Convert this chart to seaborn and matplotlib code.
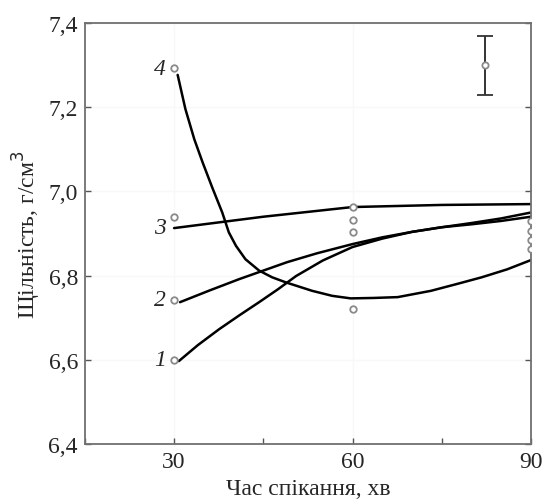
import numpy as np
import pandas as pd
import seaborn as sns
import matplotlib.pyplot as plt
from matplotlib.ticker import MultipleLocator

# fitted curves
c1_x = [30.8, 34, 37.6, 41, 44.3, 47.5, 50.5, 55, 60, 65, 70, 75, 80, 85, 90]
c1_y = [6.597, 6.635, 6.673, 6.706, 6.737, 6.768, 6.799, 6.836, 6.868, 6.888, 6.904, 6.915, 6.922, 6.930, 6.940]
c2_x = [31, 36, 41, 45, 49, 54, 60, 65, 70, 75, 80, 85, 90]
c2_y = [6.737, 6.765, 6.792, 6.812, 6.832, 6.853, 6.875, 6.891, 6.904, 6.915, 6.925, 6.936, 6.950]
c3_x = [30, 45, 60, 75, 90]
c3_y = [6.913, 6.940, 6.963, 6.968, 6.970]
c4_x = [30.6, 31.9, 33.4, 34.8, 36.4, 38.1, 39.2, 40.4, 42.0, 44.3, 46.5, 48.8, 53.2, 56.6,
        59.7, 63.5, 67.6, 73.2, 77.5, 81.7, 86, 90]
c4_y = [7.277, 7.196, 7.124, 7.069, 7.010, 6.950, 6.903, 6.871, 6.839, 6.812, 6.796, 6.784, 6.764, 6.752,
        6.746, 6.747, 6.749, 6.764, 6.780, 6.796, 6.815, 6.837]

# measured points
pt_x = [30, 30, 30, 30, 60, 60, 60, 60, 90, 90, 90, 90]
pt_y = [7.293, 6.939, 6.743, 6.600, 6.963, 6.932, 6.904, 6.721, 6.929, 6.906, 6.885, 6.863]

# error bar sample
err_x = [82.2]
err_y = [7.30]
err_d = [0.07]

curve_names = ["1", "2", "3", "4"]
label_y = [6.600, 6.743, 6.915, 7.293]

ytick_vals = [6.4, 6.6, 6.8, 7.0, 7.2, 7.4]
ytick_labels = ["6,4", "6,6", "6,8", "7,0", "7,2", "7,4"]
xtick_vals = [30, 60, 90]

sns.set_theme(style="white")
plt.rcParams['font.family'] = ['Liberation Serif', 'DejaVu Serif']

lines = pd.concat([
    pd.DataFrame({"t": c1_x, "rho": c1_y, "curve": "1"}),
    pd.DataFrame({"t": c2_x, "rho": c2_y, "curve": "2"}),
    pd.DataFrame({"t": c3_x, "rho": c3_y, "curve": "3"}),
    pd.DataFrame({"t": c4_x, "rho": c4_y, "curve": "4"}),
])
points = pd.DataFrame({"t": pt_x, "rho": pt_y})

fig = plt.figure(figsize=(5.44, 5.02), dpi=100)
ax = fig.add_axes([0.156, 0.1135, 0.82, 0.8385])

ax.grid(True, color="#f8f8f8", lw=1.0)
sns.lineplot(data=lines, x="t", y="rho", hue="curve", units="curve", estimator=None,
             palette=["black"] * 4, lw=1.8, legend=False, ax=ax)
sns.scatterplot(data=points, x="t", y="rho", s=22, marker="o", facecolor="white",
                edgecolor="#8a8a8a", linewidth=1.3, ax=ax, zorder=3)
ax.errorbar(err_x, err_y, yerr=err_d, fmt="o", ms=4.5, mfc="white", mec="#8a8a8a",
            mew=1.3, color="#333333", lw=1.4, capsize=6, capthick=1.6, zorder=3)

for name, yy in zip(curve_names, label_y):
    ax.text(28.6, yy, name, ha="right", va="center", fontsize=17, style="italic")

ax.set_xlim(15, 90)
ax.set_ylim(6.4, 7.4)
ax.set_xticks(xtick_vals)
ax.xaxis.set_minor_locator(MultipleLocator(15))
ax.set_yticks(ytick_vals)
ax.set_yticklabels(ytick_labels)
ax.tick_params(axis="both", which="both", direction="in", length=4, width=1,
               color="#555555", labelsize=17, pad=5)
ax.tick_params(axis="y", right=True, left=True)
ax.tick_params(axis="x", which="both", bottom=True)
for s in ax.spines.values():
    s.set_color("#707070")
    s.set_linewidth(1.3)

ax.set_xlabel("Час спікання, хв", fontsize=17, labelpad=4)
ax.set_ylabel("Щільність, г/см$^3$", fontsize=17, labelpad=4)

fig.savefig("out.png", dpi=100)
